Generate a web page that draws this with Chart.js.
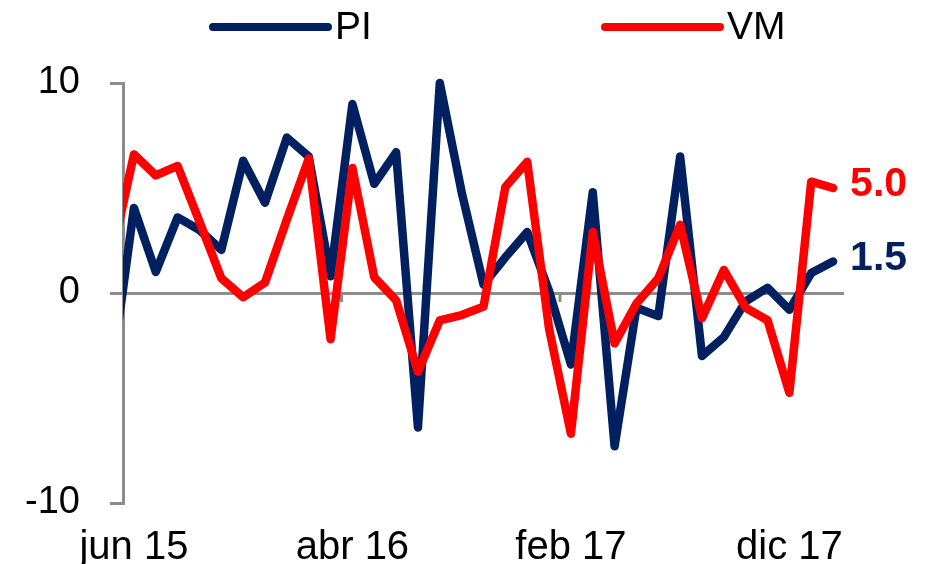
<!DOCTYPE html>
<html>
<head>
<meta charset="utf-8">
<script src="https://cdn.jsdelivr.net/npm/chart.js@4/dist/chart.umd.min.js"></script>
<style>
  html, body { margin: 0; padding: 0; background: #fff; }
  #wrap { width: 927px; height: 564px; }
</style>
</head>
<body>
<div id="wrap"><canvas id="trendChart" width="927" height="564"></canvas></div>
<script>
// monthly, may 15 .. feb 18 (first month sits left of the axis and is clipped)
const months = ['may 15', 'jun 15', 'jul 15', 'ago 15', 'sep 15', 'oct 15', 'nov 15', 'dic 15',
  'ene 16', 'feb 16', 'mar 16', 'abr 16', 'may 16', 'jun 16', 'jul 16', 'ago 16', 'sep 16', 'oct 16', 'nov 16', 'dic 16',
  'ene 17', 'feb 17', 'mar 17', 'abr 17', 'may 17', 'jun 17', 'jul 17', 'ago 17', 'sep 17', 'oct 17', 'nov 17', 'dic 17',
  'ene 18', 'feb 18'];

const piValues = [-3.7, 4.05, 1.0, 3.6, 3.0, 2.05, 6.3, 4.3, 7.4, 6.5, 0.8, 9.0, 5.2, 6.7, -6.4, 10.0, 4.8,
  0.4, 1.7, 2.9, 0.1, -3.4, 4.8, -7.3, -0.7, -1.1, 6.5, -3.0, -2.1, -0.4, 0.25, -0.8, 0.95, 1.5];

const vmValues = [1.8, 6.6, 5.6, 6.05, 3.4, 0.7, -0.2, 0.5, 3.5, 6.4, -2.2, 5.95, 0.75, -0.35, -3.75, -1.3, -1.05,
  -0.65, 5.05, 6.25, -1.7, -6.7, 2.9, -2.4, -0.5, 0.7, 3.25, -1.2, 1.1, -0.7, -1.3, -4.75, 5.3, 5.0];

const labelTicks = [1, 11, 21, 31];      // jun 15, abr 16, feb 17, dic 17
const markTicks = [10.5, 20.5, 30.5];    // small tick marks on the zero line
const yTicks = [-10, 0, 10];

const navy = '#002060';
const red = '#ff0000';
const gray = '#8c8c8c';

const toPoints = vals => vals.map((v, i) => ({ x: i, y: v }));

Chart.defaults.font.family = '"Liberation Sans", Arial, sans-serif';
Chart.defaults.color = '#000';

// zero-line tick marks between category groups
const zeroTicks = {
  id: 'zeroTicks',
  beforeDatasetsDraw(chart) {
    const { ctx, scales } = chart;
    const y0 = scales.y.getPixelForValue(0);
    ctx.save();
    ctx.strokeStyle = gray;
    ctx.lineWidth = 3;
    markTicks.forEach(v => {
      const x = scales.x.getPixelForValue(v);
      ctx.beginPath();
      ctx.moveTo(x, y0);
      ctx.lineTo(x, y0 + 9);
      ctx.stroke();
    });
    ctx.restore();
  }
};

// legend drawn as long thick line samples, like the original
const lineLegend = {
  id: 'lineLegend',
  afterDraw(chart) {
    const { ctx } = chart;
    const starts = [213, 605];
    ctx.save();
    ctx.font = '39px "Liberation Sans", Arial, sans-serif';
    ctx.textBaseline = 'middle';
    chart.data.datasets.forEach((ds, i) => {
      const x = starts[i];
      ctx.strokeStyle = ds.borderColor;
      ctx.lineWidth = 8;
      ctx.lineCap = 'round';
      ctx.beginPath();
      ctx.moveTo(x, 27);
      ctx.lineTo(x + 115, 27);
      ctx.stroke();
      ctx.fillStyle = '#000';
      ctx.fillText(ds.label, x + 122, 28);
    });
    ctx.restore();
  }
};

// value label at the end of each line
const endLabels = {
  id: 'endLabels',
  afterDatasetsDraw(chart) {
    const { ctx } = chart;
    ctx.save();
    ctx.font = 'bold 41px "Liberation Sans", Arial, sans-serif';
    ctx.textBaseline = 'middle';
    chart.data.datasets.forEach((ds, i) => {
      const meta = chart.getDatasetMeta(i);
      const pt = meta.data[meta.data.length - 1];
      const val = ds.data[ds.data.length - 1].y;
      ctx.fillStyle = ds.borderColor;
      ctx.fillText(val.toFixed(1), pt.x + 17, pt.y - 3);
    });
    ctx.restore();
  }
};

const ctx = document.getElementById('trendChart').getContext('2d');

new Chart(ctx, {
  type: 'line',
  data: {
    datasets: [{
      label: 'PI',
      data: toPoints(piValues),
      borderColor: navy,
      backgroundColor: navy,
      borderWidth: 8.5,
      order: 1
    }, {
      label: 'VM',
      data: toPoints(vmValues),
      borderColor: red,
      backgroundColor: red,
      borderWidth: 8.5,
      order: 0
    }]
  },
  options: {
    responsive: false,
    animation: false,
    layout: { padding: { top: 83, right: 83, left: 0, bottom: 0 } },
    elements: {
      line: { tension: 0, borderJoinStyle: 'round', borderCapStyle: 'round', fill: false },
      point: { radius: 0, hoverRadius: 0 }
    },
    datasets: {
      line: { clip: { left: 0, top: false, right: false, bottom: false } }
    },
    scales: {
      x: {
        type: 'linear',
        min: 0.5,
        max: 33.5,
        afterBuildTicks: scale => { scale.ticks = labelTicks.map(v => ({ value: v })); },
        afterFit: scale => { scale.height = 61; },
        grid: { display: false, drawTicks: false },
        border: { display: false },
        ticks: {
          autoSkip: false,
          maxRotation: 0,
          padding: 21,
          font: { size: 40 },
          callback: value => months[value]
        }
      },
      y: {
        min: -10,
        max: 10,
        afterBuildTicks: scale => { scale.ticks = yTicks.map(v => ({ value: v })); },
        afterFit: scale => { scale.width = 123; },
        grid: {
          color: c => (c.tick && c.tick.value === 0 ? gray : 'rgba(0,0,0,0)'),
          tickColor: gray,
          lineWidth: 3,
          tickLength: 13,
          drawTicks: true
        },
        border: { display: true, color: gray, width: 3 },
        ticks: { padding: 30, font: { size: 38 } }
      }
    },
    plugins: {
      legend: { display: false },
      tooltip: { enabled: false }
    }
  },
  plugins: [zeroTicks, lineLegend, endLabels]
});
</script>
</body>
</html>
